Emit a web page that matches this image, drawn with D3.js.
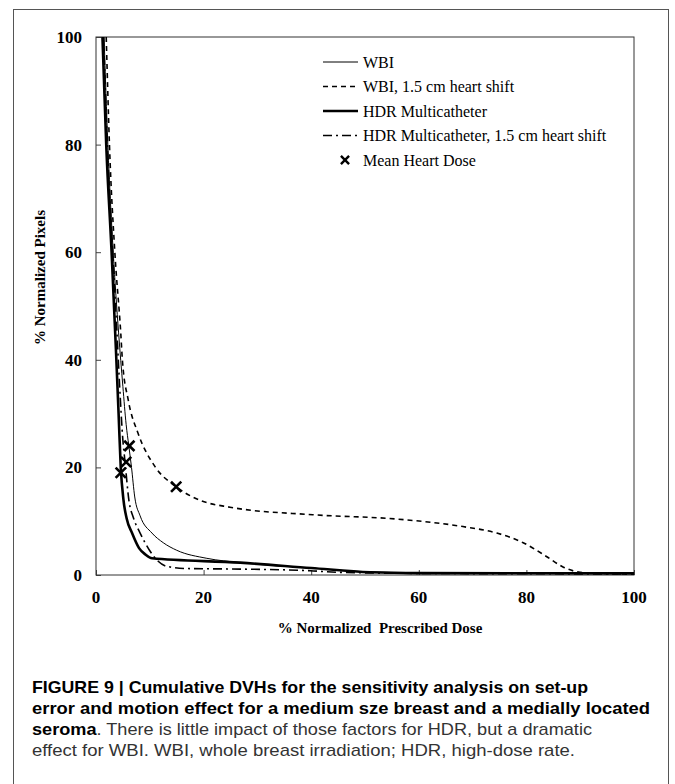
<!DOCTYPE html>
<html>
<head>
<meta charset="utf-8">
<script src="https://cdn.jsdelivr.net/npm/d3@7"></script>
<style>
  body { margin: 0; background: #fff; }
  svg text { white-space: pre; }
</style>
</head>
<body>
<div id="chart"></div>
<script>
// dose (% prescribed) vs % normalized pixels
const wbi = [[1.5,100],[2.2,80],[3.2,60],[4.2,45],[5.0,35],[5.6,28],[6.1,24],[6.6,20],[7.2,14.5],[8.2,11],[10.4,7.8],[12.5,6],[15,4.6],[20.6,3.1],[26.8,2.3],[40,1.3],[50,0.6],[60,0.4],[100,0.3]];
const wbiShift = [[1.9,100],[2.5,80],[3.5,60],[4.6,45],[4.9,40],[6.0,32.5],[7.8,26.4],[11,20.1],[14.9,16.4],[19.3,13.9],[24.9,12.6],[40.3,11.2],[55.9,10.4],[68.2,9.0],[74.5,7.8],[79.4,6.0],[83.8,3.4],[86.8,1.5],[90,0.5],[93,0.3],[100,0.2]];
const hdr = [[1.2,100],[1.9,80],[2.9,60],[3.7,42],[4.2,30],[4.6,20],[5.1,14],[5.7,10.5],[6.7,7.8],[8,5],[9.2,3.8],[10.4,3.1],[26.8,2.3],[40,1.3],[51,0.5],[60,0.35],[100,0.3]];
const hdrShift = [[1.4,100],[2.1,80],[3.1,60],[3.9,45],[4.4,35],[5.0,25],[5.4,21],[6.1,14],[7,10.5],[8.2,7.8],[10,4.5],[11.5,2.6],[13.2,1.6],[17,1.2],[26.8,1.1],[39.8,0.8],[45,0.5],[60,0.3],[100,0.2]];
const meanHeartDose = [[4.6,19],[5.6,21],[6.2,24],[14.9,16.4]];

const xTicks = [0, 20, 40, 60, 80, 100];
const yTicks = [0, 20, 40, 60, 80, 100];

const legendItems = [
    {label: "WBI", width: 1, dash: null},
    {label: "WBI, 1.5 cm heart shift", width: 1.6, dash: "5,4"},
    {label: "HDR Multicatheter", width: 2.6, dash: null},
    {label: "HDR Multicatheter, 1.5 cm heart shift", width: 1.6, dash: "9,4,2,4"},
    {label: "Mean Heart Dose", marker: true}
];

const captionLines = [
    [{t: "FIGURE 9 | Cumulative DVHs for the sensitivity analysis on set-up", b: true}],
    [{t: "error and motion effect for a medium sze breast and a medially located", b: true}],
    [{t: "seroma", b: true}, {t: ". There is little impact of those factors for HDR, but a dramatic", b: false}],
    [{t: "effect for WBI. WBI, whole breast irradiation; HDR, high-dose rate.", b: false}]
];
// line widths of the caption as printed
const captionWidths = [556, 618, 560, 543];

const W = 675, H = 784;
const margin = {top: 37, left: 96, right: 41, bottom: 209};
const width = W - margin.left - margin.right;
const height = H - margin.top - margin.bottom;

const svg = d3.select("#chart").append("svg")
    .attr("width", W)
    .attr("height", H);

// figure frame
svg.append("rect")
    .attr("x", 13.5).attr("y", 9.5)
    .attr("width", 655).attr("height", 790)
    .attr("fill", "none")
    .attr("stroke", "#555")
    .attr("stroke-width", 1);

const g = svg.append("g")
    .attr("transform", `translate(${margin.left},${margin.top})`);

const x = d3.scaleLinear().domain([0, 100]).range([0, width]);
const y = d3.scaleLinear().domain([0, 100]).range([height, 0]);

g.append("defs").append("clipPath").attr("id", "clip")
    .append("rect").attr("width", width).attr("height", height);

// axes, ticks point inward
const xAxis = d3.axisTop(x).tickValues(xTicks).tickSize(5).tickFormat("");
const yAxis = d3.axisRight(y).tickValues(yTicks).tickSize(5).tickFormat("");

g.append("g").attr("class", "x-axis")
    .attr("transform", `translate(0,${height})`)
    .call(xAxis)
    .call(a => a.select(".domain").remove());
g.append("g").attr("class", "y-axis")
    .call(yAxis)
    .call(a => a.select(".domain").remove());
g.selectAll(".tick line").attr("stroke", "#444");

g.append("rect")
    .attr("width", width).attr("height", height)
    .attr("fill", "none")
    .attr("stroke", "#333")
    .attr("stroke-width", 1);

// tick labels
g.selectAll(".xlab").data(xTicks).enter().append("text")
    .attr("class", "xlab")
    .attr("x", d => x(d))
    .attr("y", height + 28)
    .attr("text-anchor", "middle")
    .style("font-family", "Liberation Serif, Times New Roman, serif")
    .style("font-weight", "bold")
    .style("font-size", "17px")
    .text(d => d);

g.selectAll(".ylab").data(yTicks).enter().append("text")
    .attr("class", "ylab")
    .attr("x", -14)
    .attr("y", d => y(d) + 6)
    .attr("text-anchor", "end")
    .style("font-family", "Liberation Serif, Times New Roman, serif")
    .style("font-weight", "bold")
    .style("font-size", "17px")
    .text(d => d);

// axis titles
svg.append("text")
    .attr("x", 380).attr("y", 633)
    .attr("text-anchor", "middle")
    .style("font-family", "Liberation Serif, Times New Roman, serif")
    .style("font-weight", "bold")
    .style("font-size", "15px")
    .text("% Normalized  Prescribed Dose");

svg.append("text")
    .attr("transform", "translate(45,345) rotate(-90)")
    .attr("text-anchor", "start")
    .style("font-family", "Liberation Serif, Times New Roman, serif")
    .style("font-weight", "bold")
    .style("font-size", "15px")
    .text("% Normalized Pixels");

// curves
const line = d3.line()
    .x(d => x(d[0]))
    .y(d => y(d[1]))
    .curve(d3.curveMonotoneX);

const series = [
    {data: wbi, style: legendItems[0]},
    {data: wbiShift, style: legendItems[1]},
    {data: hdrShift, style: legendItems[3]},
    {data: hdr, style: legendItems[2]}
];

g.append("g").attr("clip-path", "url(#clip)")
    .selectAll("path").data(series).enter().append("path")
    .attr("d", d => line(d.data))
    .attr("fill", "none")
    .attr("stroke", "#000")
    .attr("stroke-width", d => d.style.width)
    .attr("stroke-dasharray", d => d.style.dash);

// mean heart dose markers
const cross = d3.symbol().type(d3.symbolX).size(70);
g.selectAll(".mhd").data(meanHeartDose).enter().append("path")
    .attr("class", "mhd")
    .attr("transform", d => `translate(${x(d[0])},${y(d[1])})`)
    .attr("d", cross)
    .attr("fill", "none")
    .attr("stroke", "#000")
    .attr("stroke-width", 2.6);

// legend
const legend = svg.append("g").attr("transform", "translate(323,62)");
const rowH = 24.5;
legendItems.forEach((item, i) => {
    const row = legend.append("g").attr("transform", `translate(0,${i * rowH})`);
    if (item.marker) {
        row.append("path")
            .attr("transform", "translate(22,0)")
            .attr("d", d3.symbol().type(d3.symbolX).size(45))
            .attr("fill", "none")
            .attr("stroke", "#000")
            .attr("stroke-width", 2.4);
    } else {
        row.append("line")
            .attr("x1", 0).attr("x2", 35)
            .attr("stroke", "#000")
            .attr("stroke-width", item.width)
            .attr("stroke-dasharray", item.dash);
    }
    row.append("text")
        .attr("x", 40).attr("y", 5.5)
        .style("font-family", "Liberation Serif, Times New Roman, serif")
        .style("font-size", "16px")
        .text(item.label);
});

// caption
const cap = svg.append("g").attr("transform", "translate(32,0)");
captionLines.forEach((parts, i) => {
    const t = cap.append("text")
        .attr("x", 0)
        .attr("y", 693 + i * 21)
        .style("font-family", "Liberation Sans, Arial, sans-serif")
        .style("font-size", "17px")
        .attr("fill", "#111");
    parts.forEach(p => {
        t.append("tspan")
            .style("font-weight", p.b ? "bold" : "normal")
            .attr("fill", p.b ? "#000" : "#333")
            .text(p.t);
    });
    t.attr("textLength", captionWidths[i])
        .attr("lengthAdjust", "spacingAndGlyphs");
});
</script>
</body>
</html>
